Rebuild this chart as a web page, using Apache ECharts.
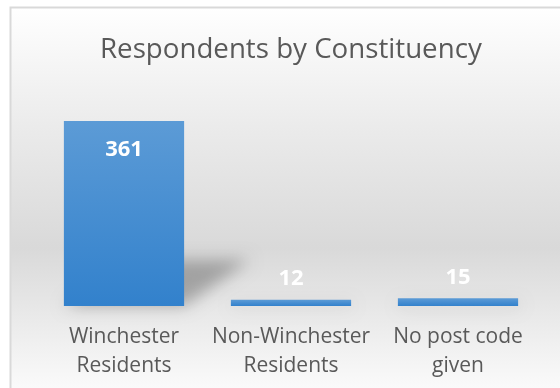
<!DOCTYPE html>
<html>
<head>
<meta charset="utf-8">
<style>
  html, body { margin: 0; padding: 0; background: #ffffff; }
  #chart { width: 560px; height: 388px; }
</style>
<script src="https://cdn.jsdelivr.net/npm/echarts@6/dist/echarts.min.js"></script>
</head>
<body>
<div id="chart"></div>
<script>
const titleText = 'Respondents by Constituency';
const categories = ['Winchester\nResidents', 'Non-Winchester\nResidents', 'No post code\ngiven'];
const values = [361, 12, 15];

const chart = echarts.init(document.getElementById('chart'), null, { renderer: 'canvas' });

const barColor = new echarts.graphic.LinearGradient(0, 0, 0, 1, [
  { offset: 0, color: '#5c9bd6' },
  { offset: 1, color: '#3281cc' }
]);

const BAR_RATIO = 120 / 167;
const OFF = 1000;

chart.setOption({
  animation: false,
  backgroundColor: '#ffffff',
  graphic: [{
    type: 'rect',
    z: -10,
    silent: true,
    shape: { x: 10.5, y: 7.5, width: 560, height: 400 },
    style: {
      fill: new echarts.graphic.LinearGradient(0, 0, 0, 1, [
        { offset: 0, color: '#ffffff' },
        { offset: 0.3, color: '#ebebeb' },
        { offset: 0.6, color: '#d9d9d9' },
        { offset: 1, color: '#ffffff' }
      ]),
      stroke: '#d9d9d9',
      lineWidth: 2
    }
  }],
  title: {
    text: titleText,
    left: 95,
    top: 31,
    textStyle: {
      fontFamily: 'Open Sans',
      fontSize: 27.7,
      fontWeight: 'normal',
      color: '#595959'
    }
  },
  grid: { left: 40.5, right: 18.5, top: 101, bottom: 82 },
  xAxis: {
    type: 'category',
    data: categories,
    axisLine: { show: false },
    axisTick: { show: false },
    axisLabel: {
      interval: 0,
      margin: 17,
      fontFamily: 'Open Sans',
      fontSize: 21,
      lineHeight: 29,
      color: '#595959'
    }
  },
  yAxis: {
    type: 'value',
    min: 0,
    max: 400,
    show: false,
    splitLine: { show: false }
  },
  series: [{
    type: 'custom',
    z: 1,
    silent: true,
    clip: false,
    data: values.map((v, i) => [i, v]),
    renderItem: function (params, api) {
      const idx = api.value(0);
      const top = api.coord([idx, api.value(1)]);
      const bot = api.coord([idx, 0]);
      const bw = api.size([1, 0])[0] * BAR_RATIO;
      const h = (bot[1] - top[1]) * 0.25;
      const shift = h * 1.43;
      const x0 = bot[0] - bw / 2 - OFF, x1 = bot[0] + bw / 2 - OFF, yb = bot[1];
      return {
        type: 'polygon',
        shape: { points: [[x0, yb], [x1, yb], [x1 + shift, yb - h], [x0 + shift, yb - h]] },
        style: {
          fill: '#000000',
          shadowBlur: 16,
          shadowOffsetX: OFF,
          shadowColor: 'rgba(0,0,0,0.28)'
        }
      };
    }
  }, {
    type: 'bar',
    z: 3,
    data: values.map((v, i) => ({
      value: v,
      label: i === 0
        ? { position: 'insideTop', distance: 18 }
        : { position: 'top', distance: 10 }
    })),
    barCategoryGap: '28%',
    itemStyle: { color: barColor },
    label: {
      show: true,
      fontFamily: 'Open Sans',
      fontWeight: 'bold',
      fontSize: 22,
      color: '#ffffff'
    }
  }]
});
</script>
</body>
</html>
